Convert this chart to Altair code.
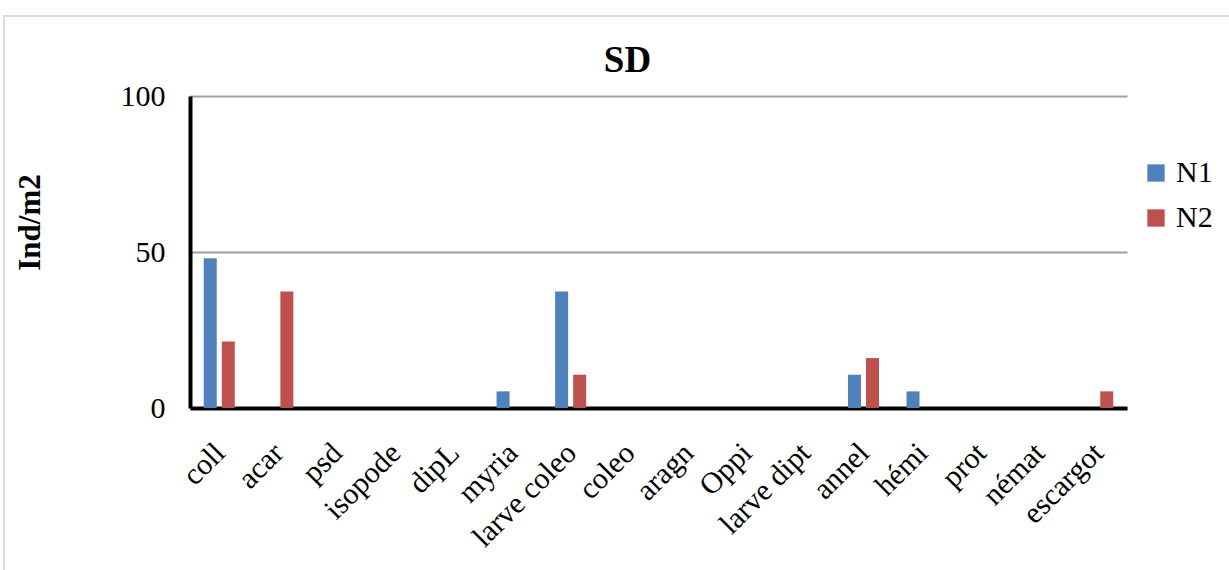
import altair as alt
import pandas as pd

# Soil fauna densities (Ind/m2) per taxon, two sampling series
taxa = ["coll", "acar", "psd", "isopode", "dipL", "myria", "larve coleo", "coleo",
        "aragn", "Oppi", "larve dipt", "annel", "hémi", "prot", "némat", "escargot"]
n1 = [48.0, 0, 0, 0, 0, 5.33, 37.33, 0, 0, 0, 0, 10.67, 5.33, 0, 0, 0]
n2 = [21.33, 37.33, 0, 0, 0, 0, 10.67, 0, 0, 0, 0, 16.0, 0, 0, 0, 5.33]
series = ["N1", "N2"]
colors = ["#4f81bd", "#c0504d"]

rows = []
for t, a, b in zip(taxa, n1, n2):
    rows.append({"taxon": t, "serie": "N1", "value": a})
    rows.append({"taxon": t, "serie": "N2", "value": b})
df = pd.DataFrame(rows)

FONT = "Liberation Serif"
W, H = 937, 312
LEFT, TOP = 190, 96

bars = alt.Chart(df).mark_bar().encode(
    x=alt.X("taxon:N", sort=taxa, title=None,
            scale=alt.Scale(paddingInner=0.47, paddingOuter=0.235),
            axis=alt.Axis(labelAngle=-45, labelAlign="right", labelBaseline="middle",
                          labelFont=FONT, labelFontSize=30, labelColor="black",
                          labelPadding=40, labelOffset=1, ticks=False,
                          domainColor="black", domainWidth=4, grid=False)),
    xOffset=alt.XOffset("serie:N", scale=alt.Scale(paddingInner=0.28)),
    y=alt.Y("value:Q", title="Ind/m2",
            scale=alt.Scale(domain=[0, 100], nice=False),
            axis=alt.Axis(values=[0, 50, 100], labelFont=FONT, labelFontSize=30,
                          labelColor="black", labelPadding=25, ticks=False,
                          domainColor="black", domainWidth=4, gridColor="#a0a0a0",
                          gridWidth=2, titleFont=FONT, titleFontSize=31,
                          titleFontWeight="bold", titleColor="black",
                          titleX=-160, titleY=126, titleAngle=-90,
                          titleAlign="center", titleBaseline="middle")),
    color=alt.Color("serie:N", scale=alt.Scale(domain=series, range=colors),
                    legend=alt.Legend(title=None, orient="none", legendX=951, legendY=62,
                                      symbolType="square", symbolSize=300,
                                      labelFont=FONT, labelFontSize=30,
                                      labelColor="black", rowPadding=15,
                                      labelOffset=5, symbolStrokeWidth=0)),
)

# Light gray frame around the whole chart area
frame = alt.Chart(pd.DataFrame({"k": [0]})).mark_rect(
    fill=None, stroke="#d9d9d9", strokeWidth=2
).encode(
    x=alt.value(4 - LEFT), x2=alt.value(1240 - LEFT),
    y=alt.value(16 - TOP), y2=alt.value(580 - TOP),
)

chart = alt.layer(frame, bars).properties(
    width=W, height=H,
    title=alt.TitleParams("SD", font=FONT, fontSize=37, fontWeight="bold",
                          color="black", anchor="middle", frame="group",
                          baseline="alphabetic", offset=0, dy=94, dx=-31),
    autosize=alt.AutoSizeParams(type="none"),
    padding={"left": LEFT, "top": TOP, "right": 1229 - LEFT - W, "bottom": 570 - TOP - H},
).configure_view(stroke=None)

chart.save("out.html", embed_options={"renderer": "svg", "actions": False})
